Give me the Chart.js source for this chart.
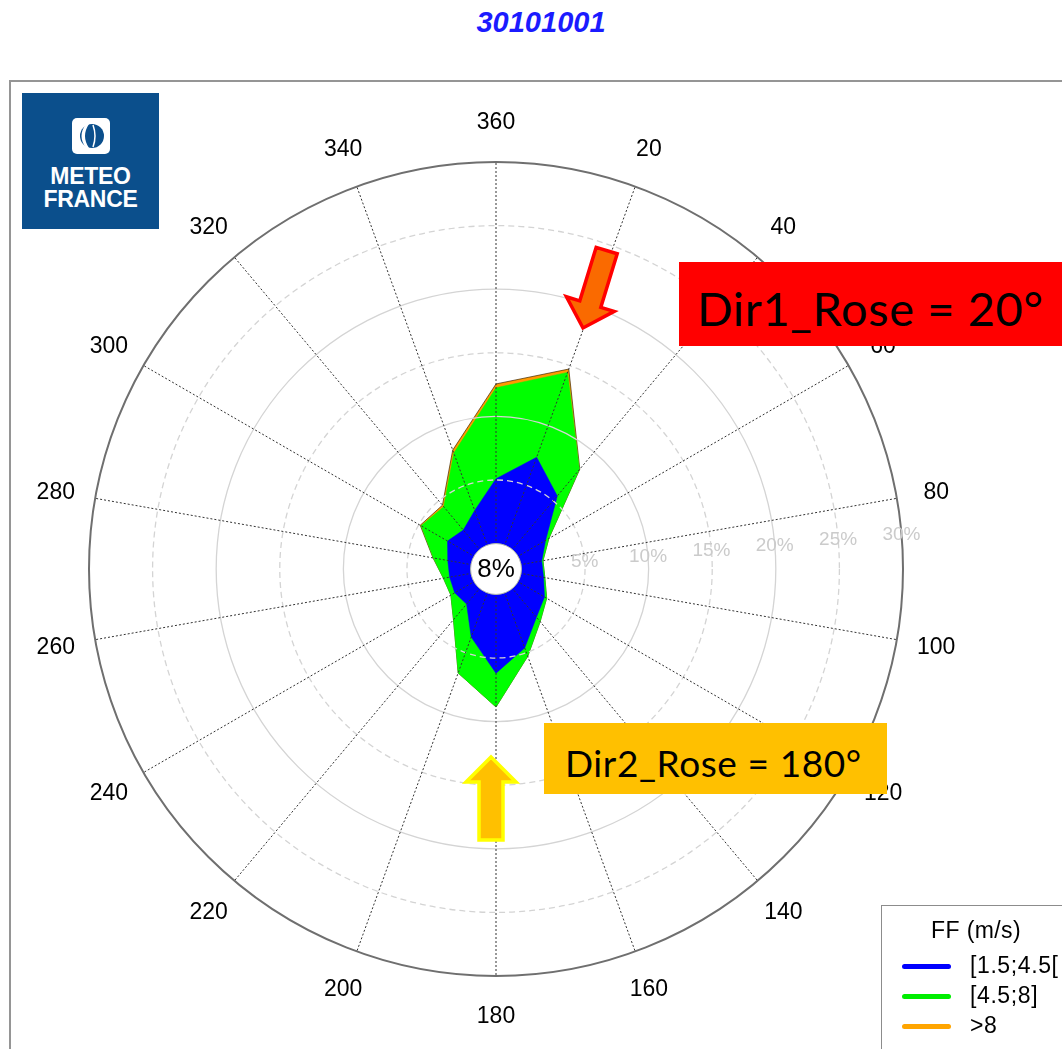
<!DOCTYPE html>
<html>
<head>
<meta charset="utf-8">
<script src="https://cdn.jsdelivr.net/npm/chart.js@4.4.1/dist/chart.umd.min.js"></script>
<style>
    html, body { margin: 0; padding: 0; background: #fff; }
    #page { position: relative; width: 1062px; height: 1049px; overflow: hidden; font-family: "Liberation Sans", Arial, sans-serif; }
    #rose { position: absolute; left: 0; top: 0; }
    .abs { position: absolute; white-space: nowrap; line-height: 1; }
    #title { left: 541px; top: 6px; transform: translateX(-50%); font: italic bold 29px "Liberation Sans", Arial, sans-serif; color: #1b1bff; }
    #frame { left: 9px; top: 80px; width: 1200px; height: 1200px; border: 2px solid #959595; box-sizing: border-box; }
    #logo { left: 22px; top: 93px; width: 137px; height: 136px; background: #0b4f8c; }
    #logo svg { position: absolute; left: 50px; top: 25px; }
    .logoText { left: 0; width: 137px; text-align: center; color: #fff; font-weight: bold; font-size: 23px; letter-spacing: -0.3px; }
    #dir1 { left: 679px; top: 262px; width: 420px; height: 84px; background: #ff0000; }
    #dir1 span { left: 18px; top: 18px; font: 47px Lato, sans-serif; letter-spacing: 0.6px; color: #000; }
    #dir2 { left: 544px; top: 723px; width: 343px; height: 71px; background: #ffc000; }
    #dir2 span { left: 21px; top: 17px; font: 37px Lato, sans-serif; letter-spacing: 0.6px; color: #000; }
    #arrows { left: 0; top: 0; }
    #legend { left: 881px; top: 905px; width: 300px; height: 300px; border: 1.5px solid #8c8c8c; box-sizing: border-box; }
    #legendTitle { left: 49px; top: 13px; font-size: 23px; letter-spacing: 0.4px; }
    .legRow { left: 20px; height: 30px; }
    .legRow i { position: absolute; left: 0; top: 12px; width: 49px; height: 5px; border-radius: 3px; }
    .legRow span { position: absolute; left: 68px; top: 2px; font-size: 23px; letter-spacing: 0.6px; line-height: 1; }
</style>
</head>
<body>
<div id="page">
    <div class="abs" id="title">30101001</div>
    <div class="abs" id="frame"></div>
    <canvas id="rose" width="1062" height="1049"></canvas>
    <div class="abs" id="logo">
        <svg width="38" height="36" viewBox="0 0 38 36">
            <rect x="0" y="0" width="38" height="36" rx="5" fill="#fff"/>
            <circle cx="20" cy="18" r="12" fill="#0b4f8c"/>
            <path d="M17 6 Q9 18 17 30 L14 30 Q5 18 14 6 Z" fill="#fff"/>
            <path d="M21 7 Q25 18 21 29" stroke="#fff" stroke-width="1.5" fill="none"/>
        </svg>
        <div class="abs logoText" style="top:72px">METEO</div>
        <div class="abs logoText" style="top:95px">FRANCE</div>
    </div>
    <div class="abs" id="dir1"><span class="abs">Dir1_Rose = 20°</span></div>
    <div class="abs" id="dir2"><span class="abs">Dir2_Rose = 180°</span></div>
    <svg class="abs" id="arrows" width="1062" height="1049">
        <g transform="translate(583,328) rotate(17)">
            <polygon points="-11,-81 11,-81 11,-25 25,-25 0,0 -25,-25 -11,-25" fill="#fa6a00" stroke="#ff0000" stroke-width="3.5"/>
        </g>
        <g transform="translate(491,757)">
            <polygon points="-12,83 12,83 12,25 25,25 0,0 -25,25 -12,25" fill="#ffc000" stroke="#ffff00" stroke-width="3.5"/>
        </g>
    </svg>
    <div class="abs" id="legend">
        <div class="abs" id="legendTitle">FF (m/s)</div>
        <div id="legendRows"></div>
    </div>
</div>
<script>
// directions (degrees), clockwise from north
const DIRECTIONS = ['360', '20', '40', '60', '80', '100', '120', '140', '160', '180', '200', '220', '240', '260', '280', '300', '320', '340'];

// frequency (%) per speed class
const FF_LOW  = [5.1, 7.35, 5.5, 2.5, 1.65, 1.8, 2.4, 2.95, 4.6, 6.2, 3.7, 1.6, 1.75, 1.7, 1.85, 2.4, 2.0, 2.9];
const FF_MID  = [7.15, 7.1, 2.7, 0.3, 0.1, 0.1, 0.2, 0.45, 0.7, 2.65, 3.0, 1.6, 0.35, 0.5, 1.15, 2.4, 2.4, 4.8];
const FF_HIGH = [0.3, 0.28, 0.05, 0, 0, 0, 0, 0, 0, 0, 0, 0, 0, 0, 0.03, 0.08, 0.15, 0.25];

const SERIES_LABELS = ['[1.5;4.5[', '[4.5;8]', '>8'];
const SERIES_COLORS = ['#0000ff', '#00ff00', '#ff9900'];
const LEGEND_COLORS = ['#0000ff', '#00ee00', '#ffa500'];

const RING_TICKS = [0, 5, 10, 15, 20, 25, 30];
const CALM_LABEL = '8%';

// cumulative sums so each class sits on top of the previous one
const classes = [FF_LOW, FF_MID, FF_HIGH];
const stacked = classes.map((_, k) =>
    DIRECTIONS.map((_, i) => classes.slice(0, k + 1).reduce((s, arr) => s + arr[i], 0))
);

const datasets = stacked.map((values, k) => ({
    label: SERIES_LABELS[k],
    data: values,
    backgroundColor: SERIES_COLORS[k],
    borderColor: k === 2 ? '#3d2800' : SERIES_COLORS[k],
    borderWidth: k === 2 ? 0.7 : 0.5,
    fill: 'origin',
    pointRadius: 0,
    pointHoverRadius: 0,
    tension: 0
}));

// centre hole, calm percentage, ring labels (85 deg bearing) and direction labels
const roseOverlay = {
    id: 'roseOverlay',
    afterDraw(chart) {
        const scale = chart.scales.r;
        const ctx = chart.ctx;
        const cx = scale.xCenter;
        const cy = scale.yCenter;
        const r0 = scale.getDistanceFromCenterForValue(0);

        ctx.save();
        ctx.beginPath();
        ctx.arc(cx, cy, r0, 0, Math.PI * 2);
        ctx.fillStyle = '#fff';
        ctx.fill();
        ctx.lineWidth = 1;
        ctx.strokeStyle = '#b0b0b0';
        ctx.stroke();

        ctx.textAlign = 'center';
        ctx.textBaseline = 'middle';
        ctx.fillStyle = '#000';
        ctx.font = '26px "Liberation Sans", Arial, sans-serif';
        ctx.fillText(CALM_LABEL, cx, cy + 1);

        const a = 85 * Math.PI / 180;
        ctx.fillStyle = '#cbcbcb';
        ctx.font = '19px "Liberation Sans", Arial, sans-serif';
        RING_TICKS.filter(v => v > 0).forEach(v => {
            const d = scale.getDistanceFromCenterForValue(v);
            ctx.fillText(v + '%', cx + d * Math.sin(a), cy - d * Math.cos(a) + 1);
        });

        ctx.fillStyle = '#000';
        ctx.font = '23px "Liberation Sans", Arial, sans-serif';
        DIRECTIONS.forEach((lbl, i) => {
            const p = scale.getPointPosition(i, scale.drawingArea + 40);
            ctx.fillText(lbl, p.x, p.y + 1);
        });
        ctx.restore();
    }
};

new Chart(document.getElementById('rose'), {
    type: 'radar',
    data: { labels: DIRECTIONS, datasets: datasets },
    options: {
        responsive: false,
        animation: false,
        devicePixelRatio: 1,
        layout: { padding: { left: 89, top: 162, right: 159, bottom: 73 } },
        plugins: {
            legend: { display: false },
            tooltip: { enabled: false }
        },
        elements: { line: { tension: 0 } },
        scales: {
            r: {
                min: -2,
                max: 30,
                startAngle: 0,
                afterBuildTicks: (scale) => {
                    scale.ticks = RING_TICKS.map(v => ({ value: v }));
                },
                ticks: { display: false },
                grid: {
                    z: 1,
                    circular: true,
                    color: (c) => {
                        const v = c.tick ? c.tick.value : 30;
                        if (v === 0) return 'rgba(0,0,0,0)';
                        if (v === 30) return '#6f6f6f';
                        return '#d4d4d4';
                    },
                    lineWidth: (c) => (c.tick && c.tick.value === 30 ? 2 : 1.3)
                },
                border: {
                    dash: (c) => (c.tick && c.tick.value % 10 === 5 ? [6, 4] : [])
                },
                angleLines: {
                    color: '#333',
                    lineWidth: 1,
                    borderDash: [2, 2]
                },
                pointLabels: { display: false }
            }
        }
    },
    plugins: [roseOverlay]
});

// legend built from the same series lists
const rows = document.getElementById('legendRows');
SERIES_LABELS.forEach((label, k) => {
    const row = document.createElement('div');
    row.className = 'abs legRow';
    row.style.top = (46 + k * 30) + 'px';
    row.innerHTML = `<i style="background:${LEGEND_COLORS[k]}"></i><span>${label}</span>`;
    rows.appendChild(row);
});
</script>
</body>
</html>
